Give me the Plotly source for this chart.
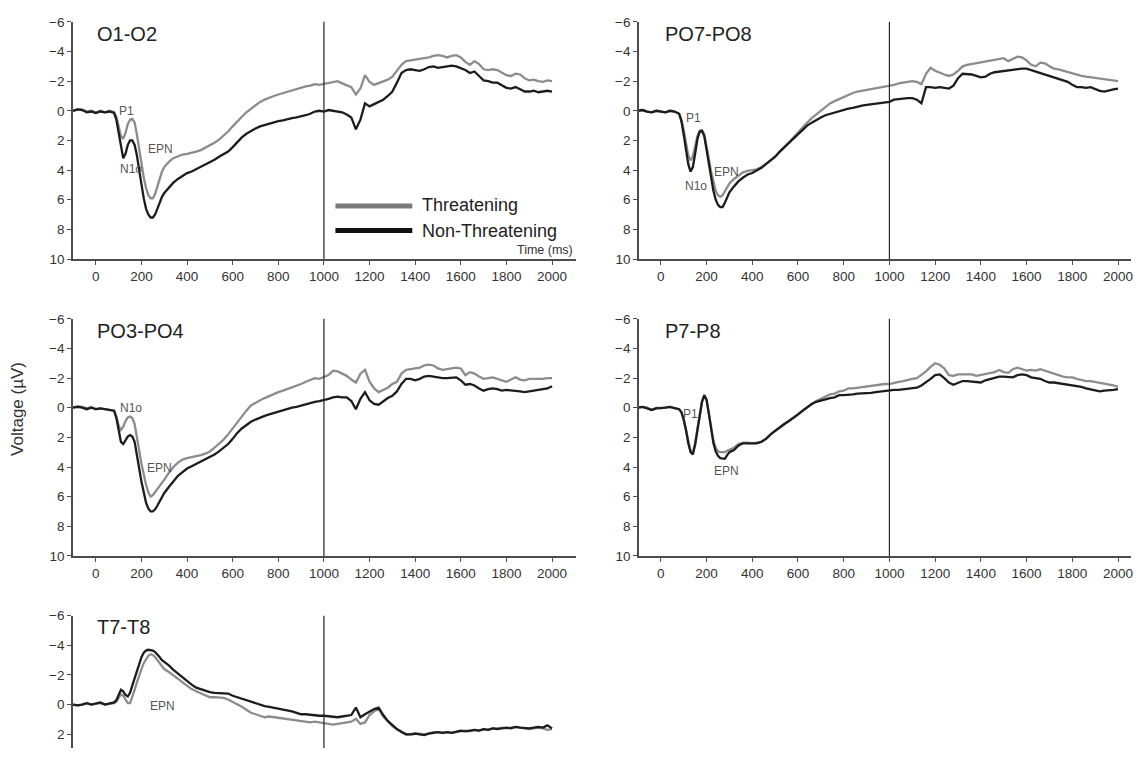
import plotly.graph_objects as go

# time grid (ms): dense around the early components, 20 ms steps afterwards
times = list(range(-100, 90, 20)) + list(range(90, 301, 10)) + list(range(320, 2001, 20))

# voltages (uV), one list per condition and electrode pair
o1o2_threat = [
    0, -0.1, -0.1, 0.05, 0, 0.1, 0, 0.1, 0, 0.1,
    0.4, 1.0, 1.7, 1.9, 1.5, 0.9, 0.6, 0.55, 0.8, 1.6, 2.6,
    3.6, 4.5, 5.2, 5.7, 5.9, 5.9, 5.6, 5.1, 4.6, 4.1, 3.8,
    3.45, 3.2, 3.05, 2.95, 2.9, 2.85, 2.75, 2.65, 2.5, 2.35,
    2.15, 1.95, 1.7, 1.4, 1.05, 0.7, 0.4, 0.1, -0.15, -0.4,
    -0.6, -0.75, -0.9, -1.0, -1.1, -1.2, -1.3, -1.35, -1.5, -1.55,
    -1.65, -1.7, -1.8, -1.75, -1.8, -1.85, -1.95, -2.0, -1.85, -1.75,
    -1.6, -1.1, -1.5, -2.4, -1.95, -1.75, -1.85, -1.95, -2.1, -2.3,
    -2.7, -3.1, -3.35, -3.4, -3.4, -3.45, -3.55, -3.6, -3.7, -3.75,
    -3.7, -3.6, -3.7, -3.75, -3.6, -3.3, -3.1, -3.35, -3.15, -2.8,
    -2.75, -2.8, -2.75, -2.6, -2.4, -2.35, -2.5, -2.45, -2.2, -2.05,
    -2.1, -2.0, -1.95, -2.05, -2.0,
]
o1o2_non = [
    0, -0.1, -0.05, 0.1, 0.05, 0.15, 0.05, 0.1, 0.05, 0.15,
    0.6, 1.5, 2.6, 3.2, 2.9, 2.3, 2.0, 2.0, 2.3, 3.0, 4.0,
    5.0, 5.9, 6.6, 7.0, 7.2, 7.2, 7.0, 6.6, 6.2, 5.8, 5.55,
    5.2, 4.85, 4.6, 4.4, 4.2, 4.1, 3.95, 3.8, 3.6, 3.5,
    3.3, 3.1, 2.95, 2.75, 2.45, 2.1, 1.8, 1.55, 1.35, 1.2,
    1.05, 0.95, 0.9, 0.8, 0.7, 0.65, 0.55, 0.5, 0.45, 0.4,
    0.3, 0.2, 0.05, 0.0, 0.05, -0.05, 0.0, 0.0, 0.1, 0.25,
    0.45, 1.25, 0.6, -0.5, -0.3, -0.45, -0.6, -0.75, -1.0, -1.3,
    -1.9, -2.55, -2.75, -2.8, -2.75, -2.7, -2.8, -2.95, -3.0, -2.9,
    -2.95, -3.0, -3.05, -3.0, -2.9, -2.75, -2.55, -2.65, -2.35, -2.05,
    -2.0, -1.9, -1.9, -1.75, -1.55, -1.5, -1.6, -1.45, -1.3, -1.3,
    -1.35, -1.25, -1.3, -1.35, -1.3,
]
po7po8_threat = [
    0, -0.05, 0.05, 0.1, 0.0, 0.05, 0.1, 0.0, 0.05, 0.2,
    0.6, 1.3, 2.2, 3.0, 3.35, 3.1, 2.4, 1.7, 1.35, 1.3, 1.6,
    2.3, 3.2, 4.1, 4.8, 5.4, 5.7, 5.8, 5.7, 5.4, 5.1, 4.9,
    4.6, 4.35, 4.15, 4.05, 4.0, 3.95, 3.8, 3.6, 3.35, 3.1,
    2.8, 2.5, 2.15, 1.8, 1.45, 1.1, 0.8, 0.5, 0.25, 0.0,
    -0.3, -0.5, -0.65, -0.8, -0.95, -1.1, -1.2, -1.3, -1.35, -1.4,
    -1.5, -1.55, -1.6, -1.65, -1.7, -1.75, -1.85, -1.9, -2.0, -2.0,
    -1.95, -1.8, -2.5, -2.9, -2.7, -2.55, -2.45, -2.35, -2.45, -2.7,
    -3.0, -3.1, -3.15, -3.2, -3.25, -3.3, -3.35, -3.45, -3.5, -3.55,
    -3.35, -3.5, -3.65, -3.6, -3.4, -3.1, -3.0, -3.25, -3.2, -3.0,
    -2.85, -2.8, -2.7, -2.6, -2.5, -2.4, -2.35, -2.3, -2.25, -2.2,
    -2.15, -2.1, -2.05, -2.0, -2.0,
]
po7po8_non = [
    0, -0.05, 0.05, 0.1, 0.0, 0.05, 0.1, 0.0, 0.05, 0.2,
    0.7, 1.6, 2.7, 3.6, 4.1, 3.8, 2.9, 1.9, 1.4, 1.35, 1.7,
    2.6, 3.6, 4.6, 5.4, 6.0, 6.35, 6.5, 6.5, 6.2, 5.8, 5.5,
    5.1, 4.75, 4.5, 4.3, 4.2, 4.05, 3.85, 3.6, 3.35, 3.1,
    2.75, 2.45, 2.15, 1.85, 1.55, 1.25, 1.0, 0.8, 0.6, 0.45,
    0.3, 0.2, 0.1, 0.0, -0.05, -0.15, -0.2, -0.3, -0.35, -0.4,
    -0.45, -0.5, -0.55, -0.6, -0.6, -0.75, -0.8, -0.8, -0.85, -0.85,
    -0.75, -0.5, -1.6, -1.6, -1.55, -1.6, -1.55, -1.5, -1.7, -2.2,
    -2.5, -2.5, -2.45, -2.35, -2.25, -2.3, -2.5, -2.6, -2.65, -2.7,
    -2.75, -2.75, -2.8, -2.85, -2.85, -2.75, -2.6, -2.55, -2.4, -2.3,
    -2.2, -2.1, -2.05, -1.95, -1.75, -1.6, -1.6, -1.55, -1.6, -1.45,
    -1.35, -1.3, -1.4, -1.45, -1.5,
]
po3po4_threat = [
    0.0, -0.1, -0.05, 0.05, -0.05, 0.1, 0.05, 0.1, 0.1, 0.2,
    0.6, 1.2, 1.5, 1.3, 0.9, 0.65, 0.6, 0.7, 1.1, 1.9, 2.9,
    3.8, 4.6, 5.2, 5.7, 6.0, 5.9, 5.7, 5.5, 5.3, 5.05, 4.85,
    4.4, 4.0, 3.7, 3.5, 3.4, 3.35, 3.3, 3.2, 3.1, 2.95,
    2.7, 2.45, 2.15, 1.8, 1.4, 0.95, 0.55, 0.2, -0.15, -0.35,
    -0.5, -0.65, -0.8, -0.95, -1.05, -1.15, -1.25, -1.4, -1.5, -1.6,
    -1.75, -1.9, -2.0, -1.95, -2.05, -2.2, -2.5, -2.45, -2.3, -2.15,
    -1.9, -1.7, -2.3, -2.55, -1.75, -1.3, -1.05, -1.2, -1.35, -1.6,
    -1.75, -2.3, -2.55, -2.6, -2.65, -2.7, -2.85, -2.9, -2.85, -2.65,
    -2.55, -2.6, -2.65, -2.7, -2.65, -2.2, -2.4, -2.3, -2.1, -1.95,
    -2.0, -2.05, -1.95, -1.85, -1.75, -1.9, -2.05, -1.9, -1.85, -1.95,
    -1.95, -1.9, -1.95, -2.0, -2.0,
]
po3po4_non = [
    0.0, -0.05, 0.0, 0.1, 0.0, 0.1, 0.05, 0.1, 0.1, 0.2,
    0.7, 1.5, 2.3, 2.45, 2.2, 1.95, 1.85, 1.95, 2.3, 3.1, 4.1,
    5.0, 5.8, 6.4, 6.8, 7.0, 7.0, 6.85, 6.6, 6.3, 6.0, 5.75,
    5.35, 4.95, 4.6, 4.35, 4.1, 3.95, 3.8, 3.65, 3.5, 3.35,
    3.15, 2.95, 2.7, 2.45, 2.1, 1.7, 1.4, 1.15, 0.95, 0.8,
    0.65, 0.55, 0.45, 0.35, 0.25, 0.15, 0.1, 0.0, -0.05, -0.15,
    -0.25, -0.35, -0.4, -0.45, -0.5, -0.6, -0.7, -0.75, -0.7, -0.7,
    -0.45, 0.1, -0.6, -1.05, -0.5, -0.25, -0.2, -0.45, -0.65, -0.8,
    -1.1, -1.6, -1.95, -1.95, -1.85, -1.95, -2.1, -2.15, -2.1, -2.0,
    -2.0, -2.0, -2.0, -2.05, -1.85, -1.55, -1.6, -1.5, -1.3, -1.15,
    -1.25, -1.3, -1.25, -1.15, -1.2, -1.15, -1.15, -1.1, -1.05, -1.1,
    -1.15, -1.2, -1.25, -1.3, -1.45,
]
p7p8_threat = [
    0.0, -0.05, 0.0, 0.15, 0.0, 0.05, 0.0, -0.05, 0.05, 0.1,
    0.3, 0.8, 1.5, 2.3, 2.9, 3.0, 2.4, 1.4, 0.4, -0.4, -0.8,
    -0.5, 0.4, 1.4, 2.2, 2.7, 2.95, 3.0, 3.0, 3.0, 2.9, 2.85,
    2.7, 2.45, 2.35, 2.35, 2.4, 2.35, 2.3, 2.1, 1.8, 1.55,
    1.35, 1.1, 0.9, 0.7, 0.45, 0.2, -0.05, -0.25, -0.45, -0.6,
    -0.75, -0.9, -0.95, -1.1, -1.15, -1.3, -1.3, -1.35, -1.4, -1.4,
    -1.45, -1.5, -1.55, -1.6, -1.6, -1.7, -1.75, -1.8, -1.9, -1.95,
    -2.0, -2.2, -2.45, -2.75, -3.0, -2.9, -2.65, -2.2, -2.15, -2.25,
    -2.25, -2.2, -2.25, -2.15, -2.2, -2.3, -2.35, -2.4, -2.55, -2.4,
    -2.35, -2.6, -2.7, -2.6, -2.5, -2.55, -2.5, -2.6, -2.5, -2.35,
    -2.3, -2.2, -2.1, -2.05, -2.05, -1.95, -1.85, -1.8, -1.8, -1.75,
    -1.7, -1.65, -1.55, -1.5, -1.4,
]
p7p8_non = [
    0.0, -0.05, 0.05, 0.15, 0.05, 0.05, 0.0, -0.05, 0.05, 0.1,
    0.3, 0.8, 1.5, 2.4, 3.0, 3.15, 2.5, 1.5, 0.4, -0.4, -0.85,
    -0.55, 0.4, 1.5, 2.4, 2.95, 3.25, 3.4, 3.45, 3.45, 3.2, 3.0,
    2.85, 2.55, 2.4, 2.4, 2.4, 2.4, 2.3, 2.1, 1.8, 1.55,
    1.35, 1.1, 0.9, 0.7, 0.45, 0.2, -0.05, -0.25, -0.4, -0.5,
    -0.6, -0.65, -0.7, -0.85, -0.85, -0.85, -0.9, -0.95, -0.95, -1.0,
    -1.0, -1.05, -1.1, -1.1, -1.15, -1.2, -1.2, -1.25, -1.25, -1.3,
    -1.35, -1.5, -1.7, -1.95, -2.2, -2.25, -2.0, -1.7, -1.55, -1.7,
    -1.8, -1.8, -1.75, -1.7, -1.7, -1.85, -1.95, -2.05, -2.1, -2.1,
    -2.1, -2.05, -2.2, -2.25, -2.2, -2.05, -2.0, -1.95, -1.8, -1.7,
    -1.7, -1.65, -1.6, -1.6, -1.5, -1.45, -1.4, -1.3, -1.25, -1.15,
    -1.1, -1.15, -1.2, -1.2, -1.25,
]
t7t8_threat = [
    0.0, 0.05, 0.0, -0.1, 0.0, -0.05, -0.1, 0.0, -0.05, -0.1,
    -0.2, -0.5, -0.7, -0.6, -0.3, -0.1, -0.1, -0.5, -1.0, -1.5, -2.0,
    -2.4, -2.8, -3.1, -3.3, -3.4, -3.35, -3.2, -3.0, -2.8, -2.6, -2.4,
    -2.2, -2.0, -1.75, -1.5, -1.25, -1.05, -0.9, -0.75, -0.6, -0.5,
    -0.5, -0.5, -0.45, -0.35, -0.2, 0.0, 0.15, 0.35, 0.55, 0.65,
    0.75, 0.85, 0.8, 0.85, 0.9, 0.95, 0.95, 1.0, 1.05, 1.1,
    1.15, 1.2, 1.15, 1.2, 1.2, 1.3, 1.35, 1.3, 1.25, 1.2,
    1.15, 0.95, 1.3, 1.2, 0.7, 0.45, 0.3, 0.8, 1.15, 1.45,
    1.65, 1.85, 2.0, 2.0, 1.95, 1.95, 2.0, 1.9, 1.85, 1.85,
    1.9, 1.85, 1.9, 1.85, 1.8, 1.75, 1.8, 1.7, 1.75, 1.65,
    1.7, 1.6, 1.6, 1.55, 1.6, 1.55, 1.5, 1.55, 1.6, 1.65,
    1.6, 1.55, 1.6, 1.7, 1.65,
]
t7t8_non = [
    0.0, 0.05, 0.0, -0.1, 0.0, -0.05, -0.15, 0.0, -0.1, -0.15,
    -0.3, -0.7, -1.0, -0.9, -0.65, -0.55, -0.8, -1.3, -1.8, -2.3, -2.8,
    -3.2, -3.5, -3.65, -3.7, -3.7, -3.65, -3.55, -3.4, -3.2, -3.0, -2.9,
    -2.65, -2.35, -2.1, -1.85, -1.55, -1.35, -1.15, -1.05, -0.9, -0.85,
    -0.8, -0.8, -0.8, -0.75, -0.6, -0.5, -0.4, -0.25, -0.15, -0.05,
    0.0, 0.1, 0.15, 0.2, 0.25, 0.35, 0.4, 0.45, 0.55, 0.65,
    0.65, 0.7, 0.75, 0.75, 0.75, 0.8, 0.8, 0.85, 0.8, 0.75,
    0.7, 0.2, 0.85, 0.65, 0.45, 0.3, 0.2, 0.7, 1.1, 1.4,
    1.65, 1.85, 2.0, 2.0, 1.95, 2.0, 2.05, 1.95, 1.9, 1.85,
    1.9, 1.85, 1.9, 1.85, 1.75, 1.8, 1.75, 1.7, 1.75, 1.65,
    1.7, 1.6, 1.65, 1.6, 1.55, 1.6, 1.5, 1.55, 1.6, 1.6,
    1.55, 1.5, 1.55, 1.4, 1.6,
]

panel_names = ["O1-O2", "PO7-PO8", "PO3-PO4", "P7-P8", "T7-T8"]
threat_series = [o1o2_threat, po7po8_threat, po3po4_threat, p7p8_threat, t7t8_threat]
non_series = [o1o2_non, po7po8_non, po3po4_non, p7p8_non, t7t8_non]

# ERP component labels: (text, ms, uV) per panel
components = [
    [("P1", 136, 0.0), ("N1o", 156, 3.95), ("EPN", 282, 2.6)],
    [("P1", 143, 0.5), ("N1o", 154, 5.1), ("EPN", 289, 4.1)],
    [("N1o", 152, 0.0), ("EPN", 278, 4.1)],
    [("P1", 130, 0.4), ("EPN", 289, 4.25)],
    [("EPN", 292, 0.1)],
]

for s in threat_series + non_series:
    assert len(s) == len(times), len(s)

# the page body puts an 8px margin round the figure; keep the figure inside
# the 1141x764 window so nothing scrolls
PAGE_W, PAGE_H, MARGIN = 1141, 764, 8
W, H = PAGE_W - 2 * MARGIN, PAGE_H - 2 * MARGIN
GRAY = "#8c8c8c"
BLACK = "#1c1c1c"
AXC = "#4d4d4d"
FONT = "Liberation Sans, Arial, sans-serif"

def fx(p):
    return min(1, max(0, (p - MARGIN) / W))

def fy(p):
    return min(1, max(0, 1 - (p - MARGIN) / H))

# screen layout of the panels: x pixel of t=0, px per ms, and plot edges
cols = [dict(zero=96, scale=0.2285, left=73, right=577),
        dict(zero=662, scale=0.229, left=640, right=PAGE_W - MARGIN)]
rows = [dict(top=15, bottom=257), dict(top=318, bottom=560), dict(top=621, bottom=PAGE_H - MARGIN)]
PX_PER_UV = 15.125

def col_axis(c):
    return [fx(c["left"]), fx(c["right"])], [(c["left"] - c["zero"]) / c["scale"],
                                             (c["right"] - c["zero"]) / c["scale"]]

def row_axis(r):
    bottom_val = -6 + (r["bottom"] - r["top"]) / PX_PER_UV
    return [fy(r["bottom"]), fy(r["top"])], [bottom_val, -6]

panel_cells = [(0, 0), (1, 0), (0, 1), (1, 1), (0, 2)]
title_pos = [(95, 27), (664, 27), (95, 330), (664, 330), (95, 633)]

fig = go.Figure()
layout = dict(
    width=W, height=H,
    margin=dict(l=0, r=0, t=0, b=0),
    paper_bgcolor="white", plot_bgcolor="white",
    showlegend=False,
    font=dict(family=FONT, color="#333333"),
)
annotations = []
shapes = []

for i, name in enumerate(panel_names):
    n = "" if i == 0 else str(i + 1)
    ci, ri = panel_cells[i]
    xd, xr = col_axis(cols[ci])
    yd, yr = row_axis(rows[ri])
    fig.add_trace(go.Scatter(x=times, y=threat_series[i], xaxis="x" + n, yaxis="y" + n,
                             mode="lines", line=dict(color=GRAY, width=2.3)))
    fig.add_trace(go.Scatter(x=times, y=non_series[i], xaxis="x" + n, yaxis="y" + n,
                             mode="lines", line=dict(color=BLACK, width=2.3)))
    last_row = ri == 2
    layout["xaxis" + n] = dict(
        domain=xd, range=xr, anchor="y" + n,
        showgrid=False, zeroline=False,
        showline=not last_row, linecolor=AXC, linewidth=1.5,
        ticks="" if last_row else "outside", ticklen=4, tickcolor=AXC, tickwidth=1,
        showticklabels=not last_row,
        ticklabeloverflow="allow",
        tickvals=list(range(0, 2001, 200)),
        tickfont=dict(size=13.5, color="#333333"),
    )
    layout["yaxis" + n] = dict(
        domain=yd, range=yr, anchor="x" + n,
        showgrid=False, zeroline=False,
        showline=True, linecolor=AXC, linewidth=1.5,
        ticks="outside", ticklen=4, tickcolor=AXC, tickwidth=1,
        tickvals=list(range(-6, 11, 2)),
        tickfont=dict(size=13.5, color="#333333"),
    )
    # stimulus offset marker
    shapes.append(dict(type="line", xref="x" + n, yref="y" + n + " domain",
                       x0=1000, x1=1000, y0=0, y1=1,
                       line=dict(color="#222222", width=1.2)))
    tx, ty = title_pos[i]
    annotations.append(dict(text=name, xref="paper", yref="paper", x=fx(tx), y=fy(ty),
                            xanchor="left", yanchor="middle", showarrow=False,
                            font=dict(size=20, color="#222222")))
    for txt, t, v in components[i]:
        annotations.append(dict(text=txt, xref="x" + n, yref="y" + n, x=t, y=v,
                                showarrow=False, font=dict(size=12, color="#555555")))

# legend drawn inside the first panel
shapes.append(dict(type="line", xref="paper", yref="paper", x0=fx(336), x1=fx(413),
                   y0=fy(203), y1=fy(203), line=dict(color="#7a7a7a", width=5)))
shapes.append(dict(type="line", xref="paper", yref="paper", x0=fx(336), x1=fx(413),
                   y0=fy(228), y1=fy(228), line=dict(color="#111111", width=5)))
annotations.append(dict(text="Threatening", xref="paper", yref="paper", x=fx(421), y=fy(202),
                        xanchor="left", yanchor="middle", showarrow=False,
                        font=dict(size=18, color="#222222")))
annotations.append(dict(text="Non-Threatening", xref="paper", yref="paper", x=fx(421), y=fy(228),
                        xanchor="left", yanchor="middle", showarrow=False,
                        font=dict(size=18, color="#222222")))
annotations.append(dict(text="Time (ms)", xref="paper", yref="paper", x=fx(576), y=fy(248),
                        xanchor="right", yanchor="middle", showarrow=False,
                        font=dict(size=12.5, color="#333333")))
annotations.append(dict(text="Voltage (\u00b5V)", xref="paper", yref="paper", x=fx(18), y=fy(410),
                        xanchor="center", yanchor="middle", textangle=-90, showarrow=False,
                        font=dict(size=17, color="#333333")))

layout["annotations"] = annotations
layout["shapes"] = shapes
fig.update_layout(**layout)

fig.write_html("out.html")
